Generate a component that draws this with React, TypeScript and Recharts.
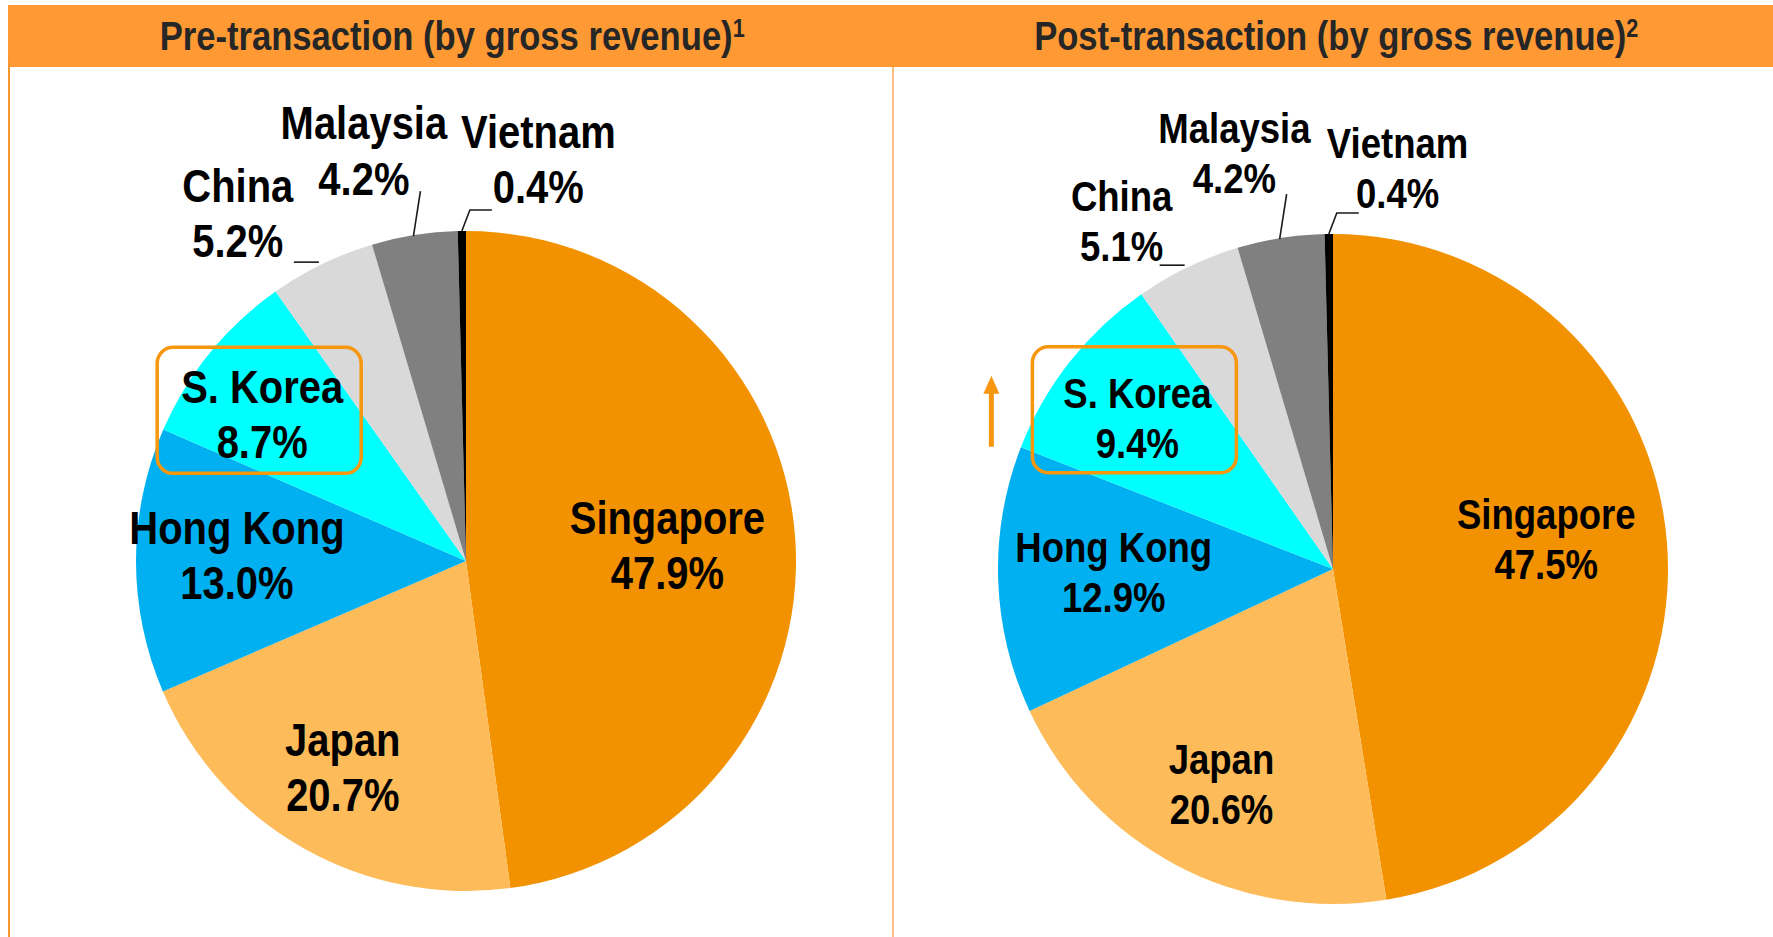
import { PieChart, Pie } from "recharts";

const countries = ["Singapore", "Japan", "Hong Kong", "S. Korea", "China", "Malaysia", "Vietnam"];
const preShares = [47.9, 20.7, 13.0, 8.7, 5.2, 4.2, 0.4];
const postShares = [47.5, 20.6, 12.9, 9.4, 5.1, 4.2, 0.4];
const sliceColors = ["#F39200", "#FDBB59", "#00B0F0", "#00FFFF", "#D9D9D9", "#808080", "#000000"];

const preTitle = "Pre-transaction (by gross revenue)";
const postTitle = "Post-transaction (by gross revenue)";

const RADIAN = Math.PI / 180;
const FONT = "'Liberation Sans', Arial, Helvetica, sans-serif";
const BOX_ORANGE = "#F7960F";

type Spot = { r: number; da: number };

// where each label sits: fraction of the outer radius, and a nudge off the slice's mid angle
const preSpots: Record<string, Spot> = {
  Singapore: { r: 0.62, da: -1.3 },
  Japan: { r: 0.74, da: 0 },
  "Hong Kong": { r: 0.685, da: 0.2 },
  "S. Korea": { r: 0.743, da: 4.1 },
  China: { r: 1.24, da: 7.5 },
  Malaysia: { r: 1.26, da: 4.8 },
  Vietnam: { r: 1.22, da: -11.5 },
};

const postSpots: Record<string, Spot> = {
  Singapore: { r: 0.65, da: 2.1 },
  Japan: { r: 0.732, da: 1.6 },
  "Hong Kong": { r: 0.646, da: 0.2 },
  "S. Korea": { r: 0.722, da: 1.0 },
  China: { r: 1.2, da: 5.5 },
  Malaysia: { r: 1.26, da: 4.1 },
  Vietnam: { r: 1.2, da: -10.4 },
};

// short leader strokes, as offsets from the slice's outer edge point
const leaders: Record<string, [number, number][]> = {
  China: [[-28, -2], [-3, -2]],
  Malaysia: [[-1, 1], [6, -44]],
  Vietnam: [[0, 0], [8, -21], [30, -21]],
};

type Variant = {
  spots: Record<string, Spot>;
  fontSize: number;
  squeeze: number;
  lineGap: number;
  shiftX: number;
  shiftY: number;
  boxDy: number;
  arrow: boolean;
};

function makeLabel(v: Variant) {
  return (props: any) => {
    const { cx, cy, midAngle, outerRadius, name, value } = props;
    const spot = v.spots[name];
    const a = (midAngle + spot.da) * RADIAN;
    const x = cx + outerRadius * spot.r * Math.cos(a) + v.shiftX;
    const y = cy - outerRadius * spot.r * Math.sin(a) + v.shiftY;
    const cap = v.fontSize * 0.716;
    const base1 = y + (cap - v.lineGap) / 2;
    const edgeX = cx + outerRadius * Math.cos(midAngle * RADIAN);
    const edgeY = cy - outerRadius * Math.sin(midAngle * RADIAN);
    const leader = leaders[name];
    const highlight = name === "S. Korea";
    const boxW = 204;
    const boxH = 126;
    const boxX = x - 3 - boxW / 2;
    const boxY = y + v.boxDy - boxH / 2;
    const ax = x - 146;

    return (
      <g>
        {leader && (
          <polyline
            points={leader.map(([dx, dy]) => `${edgeX + dx},${edgeY + dy}`).join(" ")}
            fill="none"
            stroke="#1a1a1a"
            strokeWidth={1.6}
          />
        )}
        {highlight && (
          <rect x={boxX} y={boxY} width={boxW} height={boxH} rx={16} fill="none" stroke={BOX_ORANGE} strokeWidth={3.5} />
        )}
        {highlight && v.arrow && (
          <g>
            <line x1={ax} y1={y + 29} x2={ax} y2={y - 26} stroke={BOX_ORANGE} strokeWidth={5} />
            <polygon points={`${ax - 8},${y - 24} ${ax + 8},${y - 24} ${ax},${y - 42}`} fill={BOX_ORANGE} />
          </g>
        )}
        <g transform={`translate(${x},0) scale(${v.squeeze},1)`}>
          <text textAnchor="middle" fontFamily={FONT} fontWeight={700} fontSize={v.fontSize} fill="#000">
            <tspan x={0} y={base1}>{name}</tspan>
            <tspan x={0} y={base1 + v.lineGap}>{`${Number(value).toFixed(1)}%`}</tspan>
          </text>
        </g>
      </g>
    );
  };
}

function buildData(shares: number[]) {
  return countries.map((name, i) => ({ name, value: shares[i], fill: sliceColors[i] }));
}

function Header({ title, sup, left, width }: { title: string; sup: string; left: number; width: number }) {
  return (
    <div
      style={{
        position: "absolute",
        left,
        top: 5,
        width,
        height: 62,
        display: "flex",
        alignItems: "center",
        justifyContent: "center",
        fontFamily: FONT,
        fontWeight: 700,
        fontSize: 40,
        color: "#262626",
        whiteSpace: "nowrap",
      }}
    >
      <span style={{ display: "inline-block", transform: "scaleX(0.865)", lineHeight: 1 }}>
        {title}
        <sup style={{ fontSize: 25, verticalAlign: "top", position: "relative", top: 0 }}>{sup}</sup>
      </span>
    </div>
  );
}

export default function App() {
  return (
    <div style={{ position: "relative", width: 1773, height: 937, background: "#fff", overflow: "hidden" }}>
      <style>{"body{margin:0}"}</style>
      <div style={{ position: "absolute", left: 8, top: 5, width: 1765, height: 62, background: "#FF9933" }} />
      <div style={{ position: "absolute", left: 8, top: 57, width: 2, height: 880, background: "#F7962F" }} />
      <div style={{ position: "absolute", left: 892, top: 67, width: 2, height: 870, background: "#FFBF80" }} />
      <Header title={preTitle} sup="1" left={0} width={904} />
      <Header title={postTitle} sup="2" left={890} width={892} />

      <div style={{ position: "absolute", left: 0, top: 67 }}>
        <PieChart width={886} height={870}>
          <Pie
            data={buildData(preShares)}
            dataKey="value"
            nameKey="name"
            cx={461}
            cy={489}
            outerRadius={330}
            startAngle={90}
            endAngle={-270}
            stroke="none"
            labelLine={false}
            label={makeLabel({
              spots: preSpots,
              fontSize: 47,
              squeeze: 0.85,
              lineGap: 55,
              shiftX: -3,
              shiftY: -7,
              boxDy: -3,
              arrow: false,
            })}
            isAnimationActive={false}
          />
        </PieChart>
      </div>

      <div style={{ position: "absolute", left: 886, top: 67 }}>
        <PieChart width={887} height={870}>
          <Pie
            data={buildData(postShares)}
            dataKey="value"
            nameKey="name"
            cx={442}
            cy={497}
            outerRadius={335}
            startAngle={90}
            endAngle={-270}
            stroke="none"
            labelLine={false}
            label={makeLabel({
              spots: postSpots,
              fontSize: 43,
              squeeze: 0.85,
              lineGap: 50,
              shiftX: -3,
              shiftY: -5,
              boxDy: -8,
              arrow: true,
            })}
            isAnimationActive={false}
          />
        </PieChart>
      </div>
    </div>
  );
}
